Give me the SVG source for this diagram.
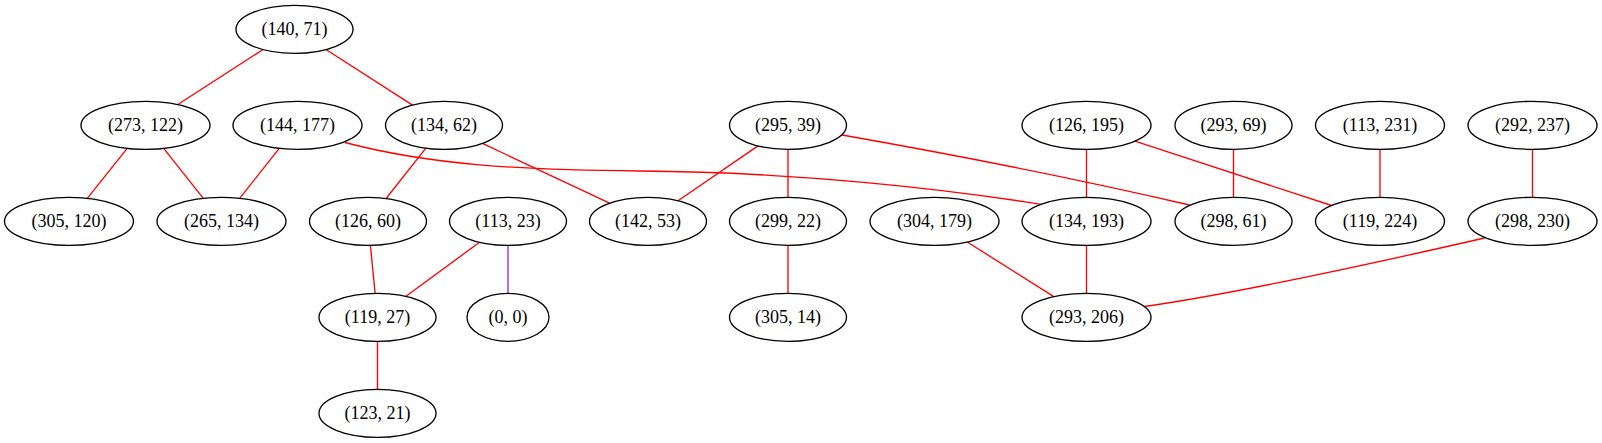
<svg xmlns="http://www.w3.org/2000/svg" width="1602" height="443" viewBox="0 0 1602 443">
<style>
.n ellipse{fill:#fff;stroke:#000;stroke-width:1.33}
.n text{font-family:"Liberation Serif","Times New Roman",serif;font-size:18px;text-anchor:middle;fill:#000}
#edges path,#edges line{fill:none;stroke:#ff0000;stroke-width:1.33}
#edges .p{stroke:#a020f0}
</style>
<rect width="1602" height="443" fill="#fff"/>
<g id="edges">
<line x1="263.1" y1="49.5" x2="177.8" y2="104.5"/>
<line x1="326" y1="49.5" x2="412.5" y2="105.1"/>
<line x1="127.2" y1="148.3" x2="87.3" y2="198.3"/>
<line x1="163.7" y1="148.3" x2="203.3" y2="198.3"/>
<line x1="279.3" y1="148.3" x2="239.7" y2="198.3"/>
<path d="M345,142.5 C430,165 520,170 640,171 C800,172 950,190 1041,204.3"/>
<line x1="425.9" y1="148.1" x2="386.1" y2="198.5"/>
<line x1="482.4" y1="143.4" x2="609.6" y2="203.2"/>
<line x1="758" y1="145.9" x2="678" y2="200.7"/>
<line x1="788" y1="149.3" x2="788" y2="197.3"/>
<path d="M842,135 Q1030,168 1189.6,205"/>
<line x1="1086.5" y1="149.3" x2="1086.5" y2="197.3"/>
<line x1="1134.9" y1="141.1" x2="1331.6" y2="205.5"/>
<line x1="1233.5" y1="149.3" x2="1233.5" y2="197.3"/>
<line x1="1380" y1="149.3" x2="1380" y2="197.3"/>
<line x1="1532.5" y1="149.3" x2="1532.5" y2="197.3"/>
<path d="M1484.5,238 Q1253,291 1144.5,306.5"/>
<line x1="967.2" y1="242" x2="1053.8" y2="296.6"/>
<line x1="370.4" y1="245.3" x2="375.1" y2="293.3"/>
<line x1="479.5" y1="242.3" x2="406" y2="296.3"/>
<line class="p" x1="508" y1="245.3" x2="508" y2="293.3"/>
<line x1="788" y1="245.3" x2="788" y2="293.3"/>
<line x1="1086.5" y1="245.3" x2="1086.5" y2="293.3"/>
<line x1="377.5" y1="341.3" x2="377.5" y2="389.3"/>
</g>
<g id="n140_71" class="n"><ellipse cx="294.5" cy="29.3" rx="58.5" ry="24"/><text x="294.5" y="34.8">(140, 71)</text></g>
<g id="n273_122" class="n"><ellipse cx="145.5" cy="125.3" rx="64.5" ry="24"/><text x="145.5" y="130.8">(273, 122)</text></g>
<g id="n144_177" class="n"><ellipse cx="297.5" cy="125.3" rx="64.5" ry="24"/><text x="297.5" y="130.8">(144, 177)</text></g>
<g id="n134_62" class="n"><ellipse cx="444" cy="125.3" rx="58.5" ry="24"/><text x="444" y="130.8">(134, 62)</text></g>
<g id="n295_39" class="n"><ellipse cx="788" cy="125.3" rx="58.5" ry="24"/><text x="788" y="130.8">(295, 39)</text></g>
<g id="n126_195" class="n"><ellipse cx="1086.5" cy="125.3" rx="64.5" ry="24"/><text x="1086.5" y="130.8">(126, 195)</text></g>
<g id="n293_69" class="n"><ellipse cx="1233.5" cy="125.3" rx="58.5" ry="24"/><text x="1233.5" y="130.8">(293, 69)</text></g>
<g id="n113_231" class="n"><ellipse cx="1380" cy="125.3" rx="64.5" ry="24"/><text x="1380" y="130.8">(113, 231)</text></g>
<g id="n292_237" class="n"><ellipse cx="1532.5" cy="125.3" rx="64.5" ry="24"/><text x="1532.5" y="130.8">(292, 237)</text></g>
<g id="n305_120" class="n"><ellipse cx="69" cy="221.3" rx="64.5" ry="24"/><text x="69" y="226.8">(305, 120)</text></g>
<g id="n265_134" class="n"><ellipse cx="221.5" cy="221.3" rx="64.5" ry="24"/><text x="221.5" y="226.8">(265, 134)</text></g>
<g id="n126_60" class="n"><ellipse cx="368" cy="221.3" rx="58.5" ry="24"/><text x="368" y="226.8">(126, 60)</text></g>
<g id="n113_23" class="n"><ellipse cx="508" cy="221.3" rx="58.5" ry="24"/><text x="508" y="226.8">(113, 23)</text></g>
<g id="n142_53" class="n"><ellipse cx="648" cy="221.3" rx="58.5" ry="24"/><text x="648" y="226.8">(142, 53)</text></g>
<g id="n299_22" class="n"><ellipse cx="788" cy="221.3" rx="58.5" ry="24"/><text x="788" y="226.8">(299, 22)</text></g>
<g id="n304_179" class="n"><ellipse cx="934.5" cy="221.3" rx="64.5" ry="24"/><text x="934.5" y="226.8">(304, 179)</text></g>
<g id="n134_193" class="n"><ellipse cx="1086.5" cy="221.3" rx="64.5" ry="24"/><text x="1086.5" y="226.8">(134, 193)</text></g>
<g id="n298_61" class="n"><ellipse cx="1233.5" cy="221.3" rx="58.5" ry="24"/><text x="1233.5" y="226.8">(298, 61)</text></g>
<g id="n119_224" class="n"><ellipse cx="1380" cy="221.3" rx="64.5" ry="24"/><text x="1380" y="226.8">(119, 224)</text></g>
<g id="n298_230" class="n"><ellipse cx="1532.5" cy="221.3" rx="64.5" ry="24"/><text x="1532.5" y="226.8">(298, 230)</text></g>
<g id="n119_27" class="n"><ellipse cx="377.5" cy="317.3" rx="58.5" ry="24"/><text x="377.5" y="322.8">(119, 27)</text></g>
<g id="n0_0" class="n"><ellipse cx="508" cy="317.3" rx="41" ry="24"/><text x="508" y="322.8">(0, 0)</text></g>
<g id="n305_14" class="n"><ellipse cx="788" cy="317.3" rx="58.5" ry="24"/><text x="788" y="322.8">(305, 14)</text></g>
<g id="n293_206" class="n"><ellipse cx="1086.5" cy="317.3" rx="64.5" ry="24"/><text x="1086.5" y="322.8">(293, 206)</text></g>
<g id="n123_21" class="n"><ellipse cx="377.5" cy="413.3" rx="58.5" ry="24"/><text x="377.5" y="418.8">(123, 21)</text></g>
</svg>
